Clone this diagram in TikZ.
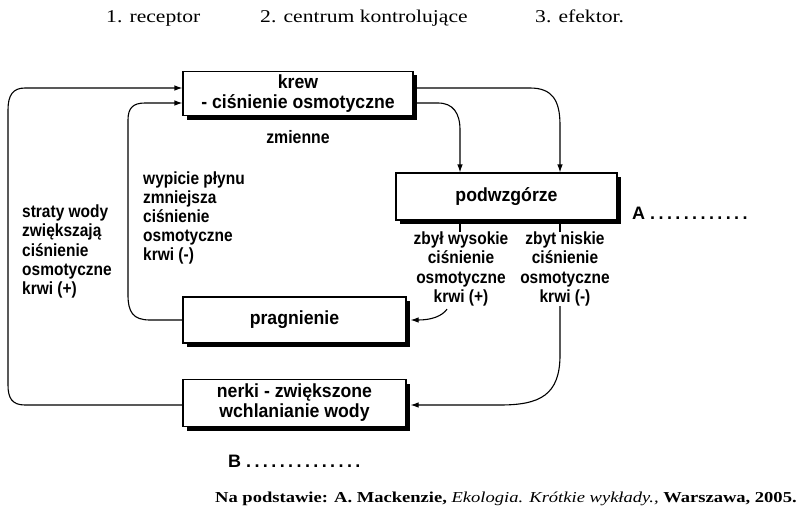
\documentclass[tikz,border=0pt]{standalone}
\usepackage{fontspec}
\setmainfont{Liberation Serif}
\setsansfont{Liberation Sans}
\newfontfamily\topfont{Liberation Serif}[FakeStretch=1.2]
\newfontfamily\capfont{Liberation Serif}[FakeStretch=1.22]
\newfontfamily\lblfont{Liberation Sans}[FakeStretch=0.88]
\newfontfamily\boxfont{Liberation Sans}[FakeStretch=0.93]
\usetikzlibrary{arrows.meta,shadows,calc}
\newcount\dotcnt
\newcommand\dotrow[1]{\dotcnt=0 \loop.\kern3.4pt\advance\dotcnt by 1 \ifnum\dotcnt<#1\repeat}
\begin{document}
\begin{tikzpicture}[x=1pt,y=-1pt,
  box/.style={draw, line width=1.1pt, fill=white, align=center,
    font=\boxfont\bfseries\fontsize{19}{19}\selectfont,
    drop shadow={shadow xshift=4pt, shadow yshift=-4pt, fill=black, opacity=1}},
  lbl/.style={font=\lblfont\bfseries\fontsize{17.6}{19.2}\selectfont, inner sep=0pt},
  conn/.style={line width=1.1pt},
  arr/.style={conn, -{Latex[length=8pt,width=5.5pt]}},
  toplbl/.style={font=\topfont\fontsize{18}{18}\selectfont, anchor=base west, inner sep=0pt}]
\useasboundingbox (0,0) rectangle (800,514);
\fill[white] (0,0) rectangle (800,514);

% top labels
\node[toplbl] (t1) at (106,22) {1. receptor};
\node[toplbl] (t2) at (260,22) {2. centrum kontrolujące};
\node[toplbl] (t3) at (535,22) {3. efektor.};

% boxes
\node[box, minimum width=230pt, minimum height=43pt] (krew) at (298,93.5) {krew\\[1pt]- ciśnienie osmotyczne};
\node[box, minimum width=221pt, minimum height=47pt] (pod) at (506.5,196.5) {podwzgórze};
\node[box, minimum width=223pt, minimum height=46pt] (pr) at (294.5,320) {pragnienie};
\node[box, minimum width=223pt, minimum height=47pt] (ner) at (294.5,403) {nerki - zwiększone\\[1pt]wchlanianie wody};

% labels
\node[lbl, font=\lblfont\bfseries\fontsize{18}{18}\selectfont] (zm) at (298,137) {zmienne};
\node[lbl, align=left, anchor=west] (loss) at (22,251.5) {straty wody\\zwiększają\\ciśnienie\\osmotyczne\\krwi (+)};
\node[lbl, align=left, anchor=west] (drink) at (143,218) {wypicie płynu\\zmniejsza\\ciśnienie\\osmotyczne\\krwi (-)};
\node[lbl, align=center] (hi) at (461,269) {zbył wysokie\\ciśnienie\\osmotyczne\\krwi (+)};
\node[lbl, align=center] (lo) at (565,269) {zbyt niskie\\ciśnienie\\osmotyczne\\krwi (-)};
\node[lbl, font=\sffamily\bfseries\fontsize{18}{18}\selectfont, anchor=west] (A) at (632,213) {A \dotrow{12}};
\node[lbl, font=\sffamily\bfseries\fontsize{18}{18}\selectfont, anchor=west] (B) at (228,461) {B \dotrow{14}};

% caption
\node[anchor=base west, inner sep=0pt, font=\capfont\fontsize{15.2}{15.2}\selectfont] (src) at (215,502)
  {\textbf{Na podstawie: A. Mackenzie,} \textit{Ekologia. Krótkie wykłady.,} \textbf{Warszawa, 2005.}};

% connectors
\coordinate (s1) at ($(pod.south)+(-46.5,0)$);
\coordinate (s2) at ($(pod.south)+(53.5,0)$);
\draw[arr] ($(krew.east)+(0,-5.5)$) -- (530,88) .. controls (552,88) and (560,100) .. (560,125) -- ($(pod.north)+(53.5,0)$);
\draw[arr] ($(krew.east)+(0,9.5)$) -- (438,103) .. controls (453,103) and (460,113) .. (460,130) -- ($(pod.north)+(-46.5,0)$);
\draw[conn] (s1) -- (s1 |- hi.north);
\draw[conn] (s2) -- (s2 |- lo.north);
\coordinate (h1) at ($(hi.south)+(-14,3)$);
\draw[arr] (h1) .. controls (442,316) and (432,320) .. ($(pr.east)+(4,0)$);
\coordinate (l1) at (s2 |- lo.south);
\draw[arr] (l1) -- (560,355) .. controls (560,395) and (540,405) .. (500,405) -- ($(ner.east)+(4,2)$);
\draw[arr] (pr.west) -- (150,320) .. controls (133,320) and (128,312) .. (128,295) -- (128,120) .. controls (128,108) and (133,103) .. (145,103) -- ($(krew.west)+(0,9.5)$);
\draw[arr] ($(ner.west)+(0,2)$) -- (25,405) .. controls (12,405) and (8,398) .. (8,385) -- (8,110) .. controls (8,95) and (13,88) .. (25,88) -- ($(krew.west)+(0,-5.5)$);
\end{tikzpicture}
\end{document}
